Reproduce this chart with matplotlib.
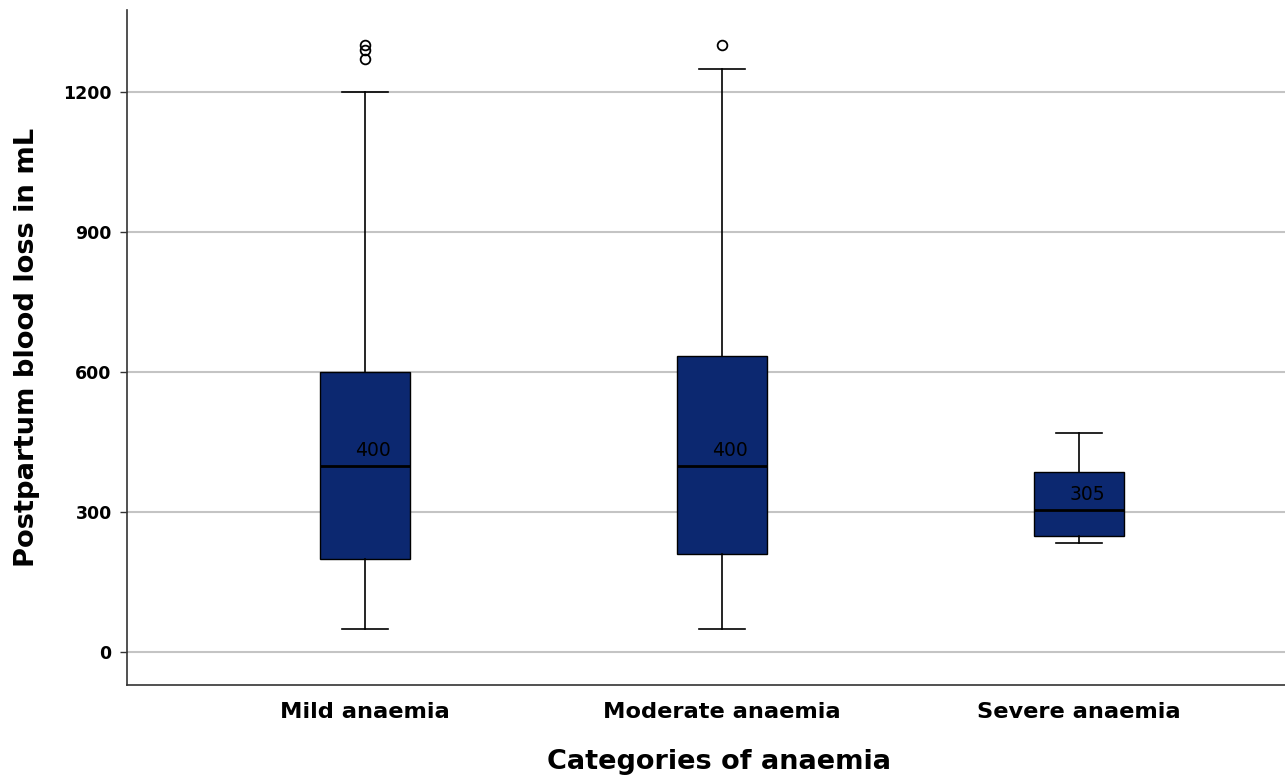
import matplotlib
matplotlib.use("Agg")
import matplotlib.pyplot as plt

# values
categories = ["Mild anaemia", "Moderate anaemia", "Severe anaemia"]
q1 = [200, 210, 250]
medians = [400, 400, 305]
q3 = [600, 635, 387]
whis_lo = [50, 50, 235]
whis_hi = [1200, 1250, 470]
outliers = [[1270, 1290, 1300], [1300], []]
y_ticks = [0, 300, 600, 900, 1200]

stats = []
for i, name in enumerate(categories):
    stats.append({"label": name, "q1": q1[i], "med": medians[i], "q3": q3[i],
                  "whislo": whis_lo[i], "whishi": whis_hi[i], "fliers": outliers[i]})

fig = plt.figure(figsize=(12.85, 7.76), dpi=100)
ax = fig.add_axes([0.0988, 0.1173, 0.9012, 0.87])

pos = [1, 2, 3]
ax.bxp(stats, positions=pos, widths=0.252, patch_artist=True,
       boxprops=dict(facecolor="#0c2870", edgecolor="black", linewidth=1.0),
       medianprops=dict(color="black", linewidth=2.0),
       whiskerprops=dict(color="black", linewidth=1.2),
       capprops=dict(color="black", linewidth=1.2),
       capwidths=0.13,
       flierprops=dict(marker="o", markerfacecolor="none", markeredgecolor="black",
                       markersize=7, markeredgewidth=1.3),
       zorder=3)

for p, m in zip(pos, medians):
    ax.text(p + 0.022, m + 12, f"{m}", ha="center", va="bottom",
            fontsize=13.5, color="black", zorder=4)

ax.set_xlim(0.333, 3.577)
ax.set_ylim(-70, 1376)
ax.set_yticks(y_ticks)
ax.set_yticklabels([str(t) for t in y_ticks], fontsize=12.5, fontweight="bold")
ax.set_xticks(pos)
ax.set_xticklabels(categories, fontsize=16.2, fontweight="bold")
ax.tick_params(axis="x", length=0, pad=12)
ax.tick_params(axis="y", length=5, width=1, color="#333333", pad=6)

ax.yaxis.grid(True, color="#c4c4c4", linewidth=1.5, zorder=0)
ax.set_axisbelow(True)
for s in ["top", "right"]:
    ax.spines[s].set_visible(False)
for s in ["left", "bottom"]:
    ax.spines[s].set_color("#333333")
    ax.spines[s].set_linewidth(1.2)

ax.set_ylabel("Postpartum blood loss in mL", fontsize=19.7, fontweight="bold")
ax.yaxis.set_label_coords(-0.0755, 0.5)
ax.set_xlabel("Categories of anaemia", fontsize=19.5, fontweight="bold")
ax.xaxis.set_label_coords(0.511, -0.095)

fig.savefig("out.png", dpi=100)
